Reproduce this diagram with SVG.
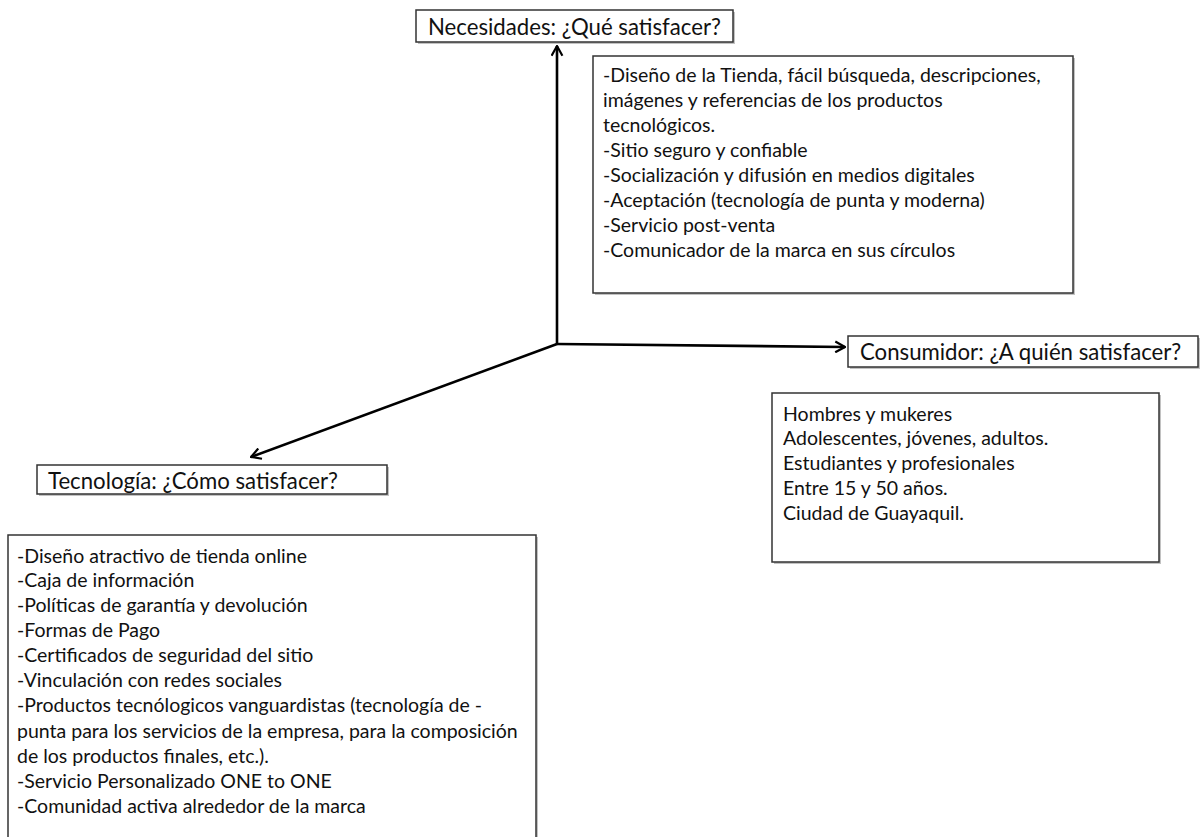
<svg xmlns="http://www.w3.org/2000/svg" width="1202" height="837" viewBox="0 0 1202 837">
<style>
.box{fill:#fff;stroke:#333;stroke-width:1.5}
.shadow{fill:#999;opacity:0.6}
.t{font-family:Lato,"Open Sans","Liberation Sans",sans-serif;fill:#111}
.title{font-size:22.2px}
.body{font-size:19.5px}
.conn{stroke:#000;stroke-width:2.6;fill:none}
</style>
<defs>
<marker id="arr" viewBox="0 0 12 12" refX="11" refY="6" markerWidth="5" markerHeight="5" orient="auto" markerUnits="strokeWidth">
<path d="M2,1 L11,6 L2,11" fill="none" stroke="#000" stroke-width="2"/>
</marker>
</defs>
<rect width="1202" height="837" fill="#fff"/>
<g id="connectors">
<line class="conn" x1="557" y1="344" x2="557" y2="46" marker-end="url(#arr)"/>
<line class="conn" x1="557" y1="344" x2="845" y2="347" marker-end="url(#arr)"/>
<line class="conn" x1="557" y1="344" x2="251" y2="457" marker-end="url(#arr)"/>
</g>
<g id="necesidades">
<rect class="shadow" x="418" y="12" width="317" height="32"/>
<rect class="box" x="416" y="10" width="317" height="32"/>
<text class="t title" x="428" y="35">Necesidades: ¿Qué satisfacer?</text>
</g>
<g id="necesidades-detalle">
<rect class="shadow" x="595" y="58" width="480" height="237"/>
<rect class="box" x="593" y="56" width="480" height="237"/>
<text class="t body" x="603" y="82">-Diseño de la Tienda, fácil búsqueda, descripciones,</text>
<text class="t body" x="603" y="107">imágenes y referencias de los productos</text>
<text class="t body" x="603" y="132">tecnológicos.</text>
<text class="t body" x="603" y="157">-Sitio seguro y confiable</text>
<text class="t body" x="603" y="182">-Socialización y difusión en medios digitales</text>
<text class="t body" x="603" y="207">-Aceptación (tecnología de punta y moderna)</text>
<text class="t body" x="603" y="232">-Servicio post-venta</text>
<text class="t body" x="603" y="257">-Comunicador de la marca en sus círculos</text>
</g>
<g id="consumidor">
<rect class="shadow" x="850" y="338" width="350" height="31"/>
<rect class="box" x="848" y="336" width="350" height="31"/>
<text class="t title" x="860" y="360">Consumidor: ¿A quién satisfacer?</text>
</g>
<g id="consumidor-detalle">
<rect class="shadow" x="774" y="395" width="387" height="169"/>
<rect class="box" x="772" y="393" width="387" height="169"/>
<text class="t body" x="783" y="421">Hombres y mukeres</text>
<text class="t body" x="783" y="445">Adolescentes, jóvenes, adultos.</text>
<text class="t body" x="783" y="470">Estudiantes y profesionales</text>
<text class="t body" x="783" y="495">Entre 15 y 50 años.</text>
<text class="t body" x="783" y="520">Ciudad de Guayaquil.</text>
</g>
<g id="tecnologia">
<rect class="shadow" x="39" y="467" width="350" height="29"/>
<rect class="box" x="37" y="465" width="350" height="29"/>
<text class="t title" x="48" y="489">Tecnología: ¿Cómo satisfacer?</text>
</g>
<g id="tecnologia-detalle">
<rect class="shadow" x="10" y="537" width="528" height="320"/>
<rect class="box" x="8" y="535" width="528" height="320"/>
<text class="t body" x="17" y="563">-Diseño atractivo de tienda online</text>
<text class="t body" x="17" y="587">-Caja de información</text>
<text class="t body" x="17" y="612">-Políticas de garantía y devolución</text>
<text class="t body" x="17" y="637">-Formas de Pago</text>
<text class="t body" x="17" y="662">-Certificados de seguridad del sitio</text>
<text class="t body" x="17" y="687">-Vinculación con redes sociales</text>
<text class="t body" x="17" y="712">-Productos tecnólogicos vanguardistas (tecnología de -</text>
<text class="t body" x="17" y="738">punta para los servicios de la empresa, para la composición</text>
<text class="t body" x="17" y="763">de los productos finales, etc.).</text>
<text class="t body" x="17" y="788">-Servicio Personalizado ONE to ONE</text>
<text class="t body" x="17" y="813">-Comunidad activa alrededor de la marca</text>
</g>
</svg>
